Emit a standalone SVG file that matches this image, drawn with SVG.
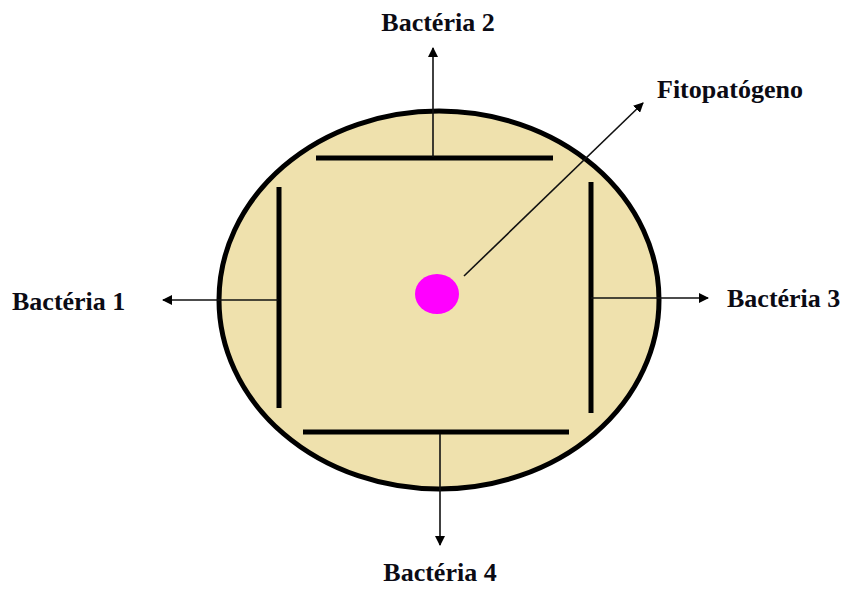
<svg xmlns="http://www.w3.org/2000/svg" width="846" height="589" viewBox="0 0 846 589">
<style>
.lbl{font-family:"Liberation Serif","Times New Roman",serif;font-weight:bold;font-size:26px;fill:#0b0b14}
.bar{stroke:#000;stroke-width:5;stroke-linecap:butt}
.con{stroke:#111;stroke-width:1.6;fill:none}
</style>
<defs>
<marker id="ah" viewBox="0 0 10 10" refX="9" refY="5" markerWidth="10" markerHeight="10" markerUnits="userSpaceOnUse" orient="auto">
<path d="M0,0 L10,5 L0,10 Z" fill="#000"/>
</marker>
</defs>
<rect width="846" height="589" fill="#fff"/>
<g id="plate">
<ellipse cx="439" cy="300" rx="220" ry="189" fill="#efe1ad" stroke="#000" stroke-width="5"/>
</g>
<g id="bars">
<line class="bar" x1="316" y1="158" x2="553" y2="158"/>
<line class="bar" x1="279" y1="187" x2="279" y2="408"/>
<line class="bar" x1="591" y1="182" x2="591" y2="413"/>
<line class="bar" x1="303" y1="432" x2="569" y2="432"/>
</g>
<g id="pathogen">
<ellipse cx="437" cy="294" rx="22" ry="20" fill="#ff00ff"/>
</g>
<g id="connectors">
<line class="con" x1="433" y1="157" x2="433" y2="48" marker-end="url(#ah)"/>
<line class="con" x1="278" y1="300" x2="163" y2="300" marker-end="url(#ah)"/>
<line class="con" x1="591" y1="298" x2="708" y2="298" marker-end="url(#ah)"/>
<line class="con" x1="440" y1="434" x2="440" y2="545" marker-end="url(#ah)"/>
<line class="con" x1="464" y1="276" x2="643" y2="103" marker-end="url(#ah)"/>
</g>
<g id="label-b2"><text class="lbl" x="438" y="31" text-anchor="middle">Bactéria 2</text></g>
<g id="label-b1"><text class="lbl" x="12" y="310">Bactéria 1</text></g>
<g id="label-b3"><text class="lbl" x="727" y="307">Bactéria 3</text></g>
<g id="label-b4"><text class="lbl" x="440" y="581" text-anchor="middle">Bactéria 4</text></g>
<g id="label-fito"><text class="lbl" x="657" y="98">Fitopatógeno</text></g>
</svg>
